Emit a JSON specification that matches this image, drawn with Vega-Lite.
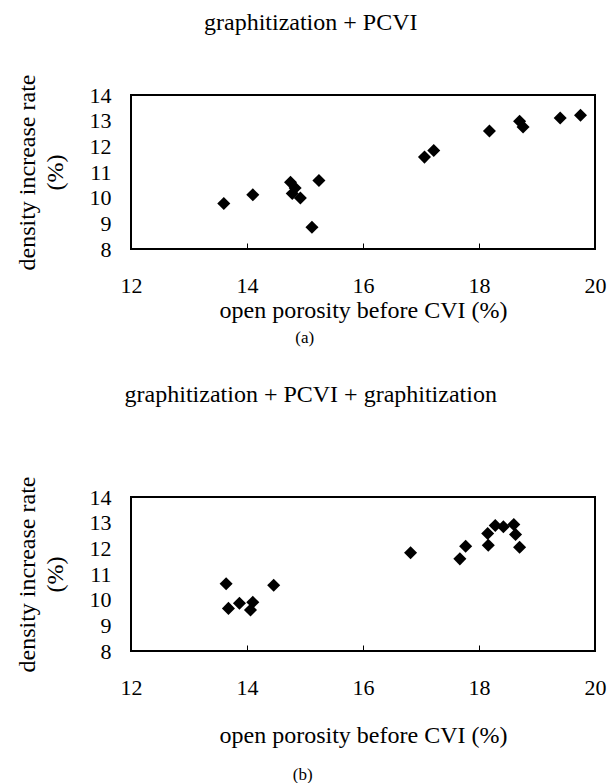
{
  "$schema": "https://vega.github.io/schema/vega-lite/v6.json",
  "background": "white",
  "padding": {"left": 14, "top": 10, "right": 10, "bottom": 0},
  "config": {
    "font": "Liberation Serif",
    "view": {"stroke": "black", "strokeWidth": 2},
    "axis": {"domain": false, "grid": false, "labelFont": "Liberation Serif", "labelFontSize": 22, "labelColor": "black", "labelFlush": false, "labelOverlap": false, "titleFont": "Liberation Serif", "titleFontSize": 24, "titleFontWeight": "normal", "titleColor": "black"},
    "title": {"font": "Liberation Serif", "fontSize": 24, "fontWeight": "normal", "color": "black"},
    "concat": {"spacing": 36}
  },
  "datasets": {
    "a": [
      {"porosity": 13.60, "rate": 9.77},
      {"porosity": 14.10, "rate": 10.11},
      {"porosity": 14.75, "rate": 10.60},
      {"porosity": 14.83, "rate": 10.38},
      {"porosity": 14.78, "rate": 10.16},
      {"porosity": 14.92, "rate": 9.99},
      {"porosity": 15.24, "rate": 10.67},
      {"porosity": 15.12, "rate": 8.85},
      {"porosity": 17.06, "rate": 11.58},
      {"porosity": 17.22, "rate": 11.84},
      {"porosity": 18.18, "rate": 12.60},
      {"porosity": 18.70, "rate": 12.98},
      {"porosity": 18.76, "rate": 12.75},
      {"porosity": 19.40, "rate": 13.10},
      {"porosity": 19.75, "rate": 13.21}
    ],
    "b": [
      {"porosity": 13.64, "rate": 10.62},
      {"porosity": 13.68, "rate": 9.66},
      {"porosity": 13.87, "rate": 9.86},
      {"porosity": 14.10, "rate": 9.90},
      {"porosity": 14.06, "rate": 9.60},
      {"porosity": 14.46, "rate": 10.56},
      {"porosity": 16.82, "rate": 11.83},
      {"porosity": 17.67, "rate": 11.59},
      {"porosity": 17.77, "rate": 12.08},
      {"porosity": 18.15, "rate": 12.58},
      {"porosity": 18.16, "rate": 12.12},
      {"porosity": 18.28, "rate": 12.89},
      {"porosity": 18.42, "rate": 12.84},
      {"porosity": 18.60, "rate": 12.93},
      {"porosity": 18.63, "rate": 12.54},
      {"porosity": 18.70, "rate": 12.04}
    ]
  },
  "vconcat": [
    {
      "title": {"text": "(a)", "orient": "bottom", "fontSize": 17, "anchor": "middle", "frame": "bounds", "offset": 6.5, "dx": -6},
      "vconcat": [
        {
          "width": 464,
          "height": 154,
          "title": {"text": "graphitization + PCVI", "anchor": "middle", "frame": "bounds", "offset": 39},
          "data": {"name": "a"},
          "mark": {"type": "point", "shape": "diamond", "filled": true, "color": "black", "size": 170, "opacity": 1},
          "encoding": {
            "x": {"field": "porosity", "type": "quantitative", "scale": {"domain": [12, 20], "nice": false, "zero": false},
              "axis": {"values": [12, 14, 16, 18, 20], "tickSize": -6, "tickColor": "black", "tickWidth": 1, "labelPadding": 32.5, "title": "open porosity before CVI (%)", "titlePadding": 2}},
            "y": {"field": "rate", "type": "quantitative", "scale": {"domain": [8, 14], "nice": false, "zero": false},
              "axis": {"values": [8, 9, 10, 11, 12, 13, 14], "ticks": false, "labelPadding": 20, "title": ["density increase rate", "(%)"], "titleLineHeight": 28, "titlePadding": 21.5}}
          }
        }
      ]
    },
    {
      "title": {"text": "(b)", "orient": "bottom", "fontSize": 17, "anchor": "middle", "frame": "bounds", "offset": 18, "dx": -8},
      "vconcat": [
        {
          "width": 464,
          "height": 154,
          "title": {"text": "graphitization + PCVI + graphitization", "anchor": "middle", "frame": "bounds", "offset": 69},
          "data": {"name": "b"},
          "mark": {"type": "point", "shape": "diamond", "filled": true, "color": "black", "size": 170, "opacity": 1},
          "encoding": {
            "x": {"field": "porosity", "type": "quantitative", "scale": {"domain": [12, 20], "nice": false, "zero": false},
              "axis": {"values": [12, 14, 16, 18, 20], "tickSize": -6, "tickColor": "black", "tickWidth": 1, "labelPadding": 32.5, "title": "open porosity before CVI (%)", "titlePadding": 25}},
            "y": {"field": "rate", "type": "quantitative", "scale": {"domain": [8, 14], "nice": false, "zero": false},
              "axis": {"values": [8, 9, 10, 11, 12, 13, 14], "ticks": false, "labelPadding": 20, "title": ["density increase rate", "(%)"], "titleLineHeight": 28, "titlePadding": 21.5}}
          }
        }
      ]
    }
  ]
}
